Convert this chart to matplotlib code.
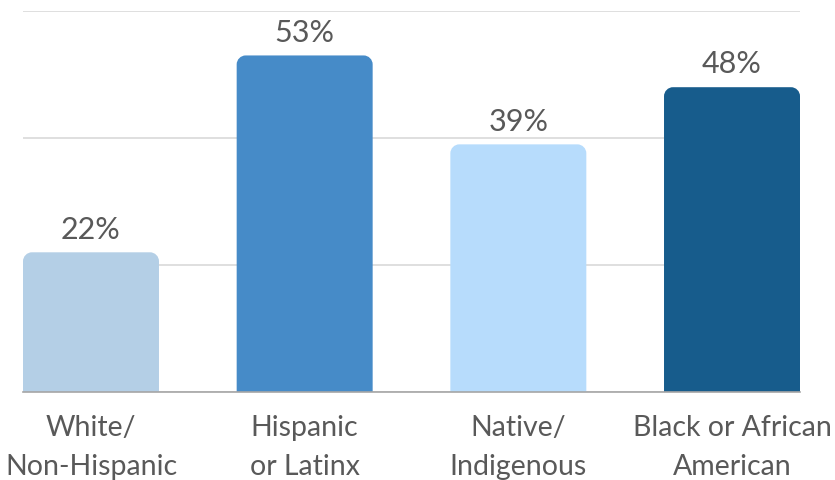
import matplotlib
matplotlib.use("Agg")
import matplotlib.pyplot as plt
from matplotlib.path import Path
from matplotlib.patches import PathPatch

categories = ["White/\nNon-Hispanic", "Hispanic\nor Latinx", "Native/\nIndigenous", "Black or African\nAmerican"]
values = [22, 53, 39, 48]
colors = ["#b4cfe6", "#468bc8", "#b7dcfc", "#175c8c"]
yticks = [0, 20, 40, 60]

plt.rcParams['font.family'] = ['Lato', 'DejaVu Sans']

W, H = 835, 481
fig = plt.figure(figsize=(W/100, H/100), dpi=100)
left, right, bottom, top = 23, 800, 393, 12
ax = fig.add_axes([left/W, (H-bottom)/H, (right-left)/W, (bottom-top)/H])

bw = 136/213.7
n = len(values)
ax.set_xlim(-bw/2, n-1+bw/2)
ax.set_ylim(0, 60)

bars = ax.bar(range(n), values, width=bw, color=colors, alpha=0)
px_x = (n-1+bw)/(right-left)
px_y = 60/(bottom-top)
r = 9
rx, ry = r*px_x, r*px_y
k = 0.5523
for b, c in zip(bars, colors):
    x0 = b.get_x(); x1 = x0 + b.get_width(); h = b.get_height()
    verts = [(x0, 0), (x0, h-ry),
             (x0, h-ry+k*ry), (x0+rx-k*rx, h), (x0+rx, h),
             (x1-rx, h),
             (x1-rx+k*rx, h), (x1, h-ry+k*ry), (x1, h-ry),
             (x1, 0), (x0, 0)]
    codes = [Path.MOVETO, Path.LINETO,
             Path.CURVE4, Path.CURVE4, Path.CURVE4,
             Path.LINETO,
             Path.CURVE4, Path.CURVE4, Path.CURVE4,
             Path.LINETO, Path.CLOSEPOLY]
    ax.add_patch(PathPatch(Path(verts, codes), facecolor=c, edgecolor='none', zorder=3))
    ax.annotate(f"{h:.0f}%", xy=(x0 + b.get_width()/2, h), xytext=(0, 7),
                textcoords='offset points', ha='center', va='bottom',
                fontsize=22, fontweight='normal', color='#595959', zorder=4)

ax.set_yticks(yticks)
ax.yaxis.grid(True, color='#d9d9d9', linewidth=1.2, zorder=0)
ax.set_axisbelow(True)
ax.tick_params(axis='y', left=False, labelleft=False)
ax.tick_params(axis='x', bottom=False, labelbottom=False)
for s in ['left', 'right', 'top']:
    ax.spines[s].set_visible(False)
ax.spines['bottom'].set_color('#a6a6a6')
ax.spines['bottom'].set_linewidth(1.2)
ax.spines['bottom'].set_zorder(5)

for i, cat in enumerate(categories):
    ax.annotate(cat, xy=(i, 0), xycoords='data', xytext=(0, -16), textcoords='offset points',
                ha='center', va='top', fontsize=20.5, fontweight='normal', color='#595959',
                linespacing=1.62, annotation_clip=False)

fig.savefig("out.png", dpi=100)
